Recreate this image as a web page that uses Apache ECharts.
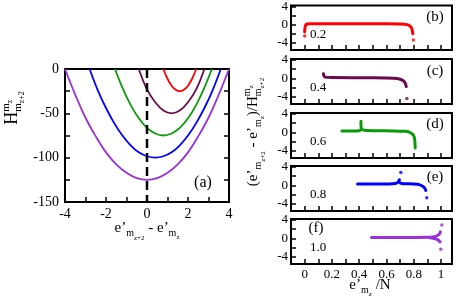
<!DOCTYPE html>
<html><head><meta charset="utf-8">
<script src="https://cdn.jsdelivr.net/npm/echarts@6/dist/echarts.min.js"></script>
<style>html,body{margin:0;padding:0;background:#fff}#c{width:457px;height:307px}</style>
</head><body><div id="c"></div>
<script>
// ---- Panel (a): H vs e'_{mz+2} - e'_{mz}
const curveRed = [[0.8,0],[1.0,-11],[1.2,-18.8],[1.4,-23.4],[1.6,-25],[1.8,-23.4],[2.0,-18.8],[2.2,-11],[2.4,0]];
const curveMaroon = [[-0.4,0],[0,-23],[0.4,-37.5],[0.8,-46.9],[1.2,-50],[1.6,-46.9],[2.0,-37.5],[2.4,-23],[2.8,0]];
const curveGreen = [[-1.56,0],[-1.2,-21],[-0.8,-40.4],[-0.4,-55.6],[0,-66.4],[0.4,-72.8],[0.8,-75],[1.2,-72.8],[1.6,-66.4],[2.0,-55.6],[2.4,-40.4],[2.8,-21],[3.16,0]];
const curveBlue = [[-2.8,0],[-2.4,-24],[-2,-44],[-1.6,-61],[-1.2,-75],[-0.8,-86],[-0.4,-94],[0,-98.4],[0.4,-100],[0.8,-98.4],[1.2,-94],[1.6,-86],[2.0,-75],[2.4,-61],[2.8,-44],[3.2,-24],[3.6,0]];
const curvePurple = [[-4,0],[-3.5,-29],[-3,-55],[-2.5,-76],[-2,-94],[-1.5,-107.5],[-1,-117],[-0.5,-123],[0,-125],[0.5,-123],[1,-117],[1.5,-107.5],[2,-94],[2.5,-76],[3,-55],[3.5,-29],[4,0]];
const zeroLine = [[0,0],[0,-150]];

// ---- Panels (b)-(f)
const ratioLabels = ['0.2','0.4','0.6','0.8','1.0'];
const panelLetters = ['(b)','(c)','(d)','(e)','(f)'];
const segRed = [[[0,-1.6],[0.003,-0.6],[0.01,0],[0.03,0.2],[0.3,0.2],[0.6,0.2],[0.7,0.15],[0.75,0],[0.775,-0.4],[0.787,-1.0],[0.793,-2.0]]];
const dotsRed = [[0,-2.5],[0.797,-3.4]];
const segMaroon = [[[0.138,1.0],[0.142,0.5],[0.15,0.25],[0.2,0.15],[0.5,0.1],[0.65,0.0],[0.7,-0.2],[0.725,-0.6],[0.738,-1.1],[0.745,-1.8]]];
const dotsMaroon = [[0.749,-4.4]];
const segGreen = [[[0.273,0.3],[0.35,0.3],[0.40,0.35],[0.41,0.5]],[[0.413,2.4],[0.413,1.4],[0.416,0.8],[0.43,0.5],[0.5,0.35],[0.65,0.3],[0.74,0.2],[0.77,0],[0.79,-0.4],[0.803,-1.0],[0.808,-2.0],[0.81,-3.4]]];
const dotsGreen = [];
const segBlue = [[[0.388,0.3],[0.5,0.3],[0.62,0.3],[0.665,0.4],[0.685,0.7],[0.695,1.2]],[[0.70,0.5],[0.72,0.35],[0.8,0.3],[0.84,0.15],[0.865,-0.2],[0.88,-0.6],[0.888,-1.1]]];
const dotsBlue = [[0.705,2.8],[0.895,-2.7]];
const segPurple = [[[0.49,0.15],[0.7,0.15],[0.9,0.2],[0.95,0.35],[0.975,0.6],[0.99,1.0],[0.995,1.4]],[[0.92,0.1],[0.955,-0.1],[0.98,-0.4],[0.993,-0.8]]];
const dotsPurple = [[1.005,2.9],[0.998,-2.4]];

const xTicksRight = [0,0.1,0.2,0.3,0.4,0.5,0.6,0.7,0.8,0.9,1.0];
const xLabelsRight = [0,0.2,0.4,0.6,0.8,1];
const yTicksRight = [-4,-2,0,2,4];
const yLabelsRight = [-4,0,4];

const COL = {red:'#ff0000', maroon:'#6a0a4c', green:'#0a9a0a', blue:'#0000ff', purple:'#9b30d9'};
const FONT = 'Liberation Serif';

const chart = echarts.init(document.getElementById('c'), null, {renderer:'canvas'});

const rightTops = [5,59,113,166,219];
const grids = [{left:65, top:69, width:164, height:133, show:true, borderColor:'#000', borderWidth:2, backgroundColor:'transparent'}];
rightTops.forEach(t => grids.push({left:291, top:t, width:161, height:45, show:true, borderColor:'#000', borderWidth:2, backgroundColor:'transparent'}));

const lab = {color:'#000', fontFamily:FONT, fontSize:13};
const noLine = {show:false, onZero:false};
const xAxes = [{gridIndex:0, type:'value', position:'bottom', min:-4, max:4, interval:1, axisLine:noLine, splitLine:{show:false},
  axisTick:{inside:true, length:5, lineStyle:{color:'#000', width:1.5}},
  axisLabel:Object.assign({margin:5, formatter:v => (v%2===0 ? String(v) : '')}, lab, {fontSize:14})}];
const yAxes = [
  {gridIndex:0, type:'value', position:'left', min:-150, max:0, interval:25, axisLine:noLine, splitLine:{show:false},
   axisTick:{inside:true, length:5, lineStyle:{color:'#000', width:1.5}},
   axisLabel:Object.assign({margin:6, formatter:v => (v%50===0 ? String(v) : '')}, lab, {fontSize:14})},
  {gridIndex:0, type:'value', position:'right', min:-150, max:0, interval:25, axisLine:noLine, splitLine:{show:false},
   axisTick:{inside:true, length:5, lineStyle:{color:'#000', width:1.5}}, axisLabel:{show:false}}
];
for (let i=0;i<5;i++){
  xAxes.push({gridIndex:i+1, type:'value', position:'bottom', min:-0.1, max:1.08, interval:0.1, axisLine:noLine, splitLine:{show:false},
    axisTick:{inside:true, length:5, customValues:xTicksRight, lineStyle:{color:'#000', width:1.5}},
    axisLabel:Object.assign({show:i===4, margin:4, customValues:xLabelsRight, formatter:v => String(Math.round(v*10)/10)}, lab)});
  yAxes.push({gridIndex:i+1, type:'value', position:'left', min:-5.6, max:4.2, axisLine:noLine, splitLine:{show:false},
    axisTick:{inside:true, length:5, customValues:yTicksRight, lineStyle:{color:'#000', width:1.5}},
    axisLabel:Object.assign({margin:3, customValues:yLabelsRight, formatter:v => String(v)}, lab)});
}

const series = [];
[[curvePurple,COL.purple],[curveBlue,COL.blue],[curveGreen,COL.green],[curveMaroon,COL.maroon],[curveRed,COL.red]].forEach(([d,c]) => {
  series.push({type:'line', xAxisIndex:0, yAxisIndex:0, data:d, smooth:0.4, showSymbol:false, lineStyle:{color:c, width:1.8}, silent:true});
});
series.push({type:'line', xAxisIndex:0, yAxisIndex:0, data:zeroLine, showSymbol:false, z:5,
  lineStyle:{color:'#000', width:2.5, type:[9,5]}, silent:true});

const panels = [[segRed,dotsRed,COL.red],[segMaroon,dotsMaroon,COL.maroon],[segGreen,dotsGreen,COL.green],[segBlue,dotsBlue,COL.blue],[segPurple,dotsPurple,COL.purple]];
panels.forEach(([segs,dots,c],i) => {
  segs.forEach(s => series.push({type:'line', xAxisIndex:i+1, yAxisIndex:i+2, data:s, showSymbol:false, smooth:0.2,
    lineStyle:{color:c, width:3, cap:'round', join:'round'}, silent:true}));
  if (dots.length) series.push({type:'scatter', xAxisIndex:i+1, yAxisIndex:i+2, data:dots, symbolSize:3.5, itemStyle:{color:c}, silent:true});
});

// rich text helper for sub/superscripts
const ctx = document.createElement('canvas').getContext('2d');
function richPieces(pieces){
  let x=0, mark=0; const children=[];
  pieces.forEach(p => {
    if (p.mark) mark = x;
    if (p.reset) x = mark;
    ctx.font = p.s + 'px "' + FONT + '"';
    const w = ctx.measureText(p.t).width;
    children.push({type:'text', x:x, y:(p.dy||0) - 0.34*p.s, silent:true,
      style:{text:p.t, fontSize:p.s, fontFamily:FONT, fill:'#000', align:'left', verticalAlign:'middle'}});
    x += w;
  });
  return {children, width:x};
}
function hLabel(pieces, cx, by){
  const r = richPieces(pieces);
  return {type:'group', x:cx - r.width/2, y:by, children:r.children};
}
function vLabel(pieces, bx, cy){
  const r = richPieces(pieces);
  return {type:'group', x:bx, y:cy + r.width/2, rotation:Math.PI/2, children:r.children};
}
const M=15, S=10, SS=7;
const graphics = [
  hLabel([{t:'e’',s:M},{t:'m',s:S,dy:4},{t:'z+2',s:SS,dy:8},{t:' - e’',s:M},{t:'m',s:S,dy:4},{t:'z',s:SS,dy:7}], 147, 233),
  hLabel([{t:'e’',s:M},{t:'m',s:S,dy:4},{t:'z',s:SS,dy:7},{t:' /N',s:M}], 370, 290),
  vLabel([{t:'H',s:18},{t:'m',s:11,dy:-8,mark:true},{t:'z',s:8,dy:-5},{t:'m',s:11,dy:4,reset:true},{t:'z+2',s:8,dy:7}], 18, 108),
  vLabel([{t:'(e’',s:M},{t:'m',s:S,dy:4},{t:'z+2',s:SS,dy:8},{t:' - e’',s:M},{t:'m',s:S,dy:4},{t:'z',s:SS,dy:7},{t:')/H',s:M},
          {t:'m',s:S,dy:-7,mark:true},{t:'z',s:SS,dy:-4},{t:'m',s:S,dy:4,reset:true},{t:'z+2',s:SS,dy:7}], 258, 132),
  {type:'text', x:203, y:183, silent:true, style:{text:'(a)', fontSize:16, fontFamily:FONT, fill:'#000', align:'center', verticalAlign:'middle'}}
];
const letterPos = [[435,17,'center'],[435,71,'center'],[435,124,'center'],[435,177,'center'],[316,228,'center']];
const ratioPos = [[318,35],[318,88],[318,142],[318,195],[318,248]];
for (let i=0;i<5;i++){
  graphics.push({type:'text', x:letterPos[i][0], y:letterPos[i][1], silent:true, style:{text:panelLetters[i], fontSize:15, fontFamily:FONT, fill:'#000', align:'center', verticalAlign:'middle'}});
  graphics.push({type:'text', x:ratioPos[i][0], y:ratioPos[i][1], silent:true, style:{text:ratioLabels[i], fontSize:13, fontFamily:FONT, fill:'#000', align:'center', verticalAlign:'middle'}});
}

chart.setOption({
  animation:false,
  backgroundColor:'#fff',
  grid:grids, xAxis:xAxes, yAxis:yAxes, series:series, graphic:graphics
});
</script></body></html>
